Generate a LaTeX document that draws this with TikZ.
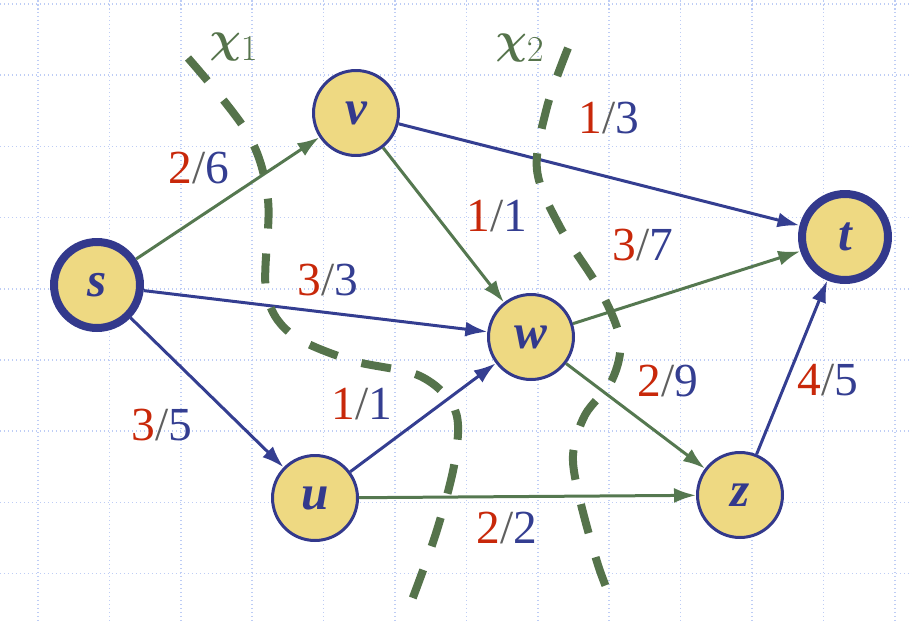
\documentclass[tikz,border=0pt]{standalone}
\usepackage{bm}
\usepackage{fontspec}
\setmainfont{Liberation Serif}
\newfontfamily\graphfont{Liberation Serif}
\usepackage{xcolor}
\usepackage{tikz}
\usetikzlibrary{arrows.meta}

\definecolor{vfill}{RGB}{238,217,130}
\definecolor{navy}{RGB}{51,57,140}
\definecolor{edgegreen}{RGB}{85,120,80}
\definecolor{edgeblue}{RGB}{52,62,145}
\definecolor{cutgreen}{RGB}{85,115,75}
\definecolor{flowred}{RGB}{200,40,10}
\definecolor{slashgray}{RGB}{95,95,95}
\definecolor{gridblue}{RGB}{190,205,245}

\newcommand{\capflow}[2]{\textcolor{flowred}{#1}\textcolor{slashgray}{/}\textcolor{edgeblue}{#2}}

\begin{document}
\begin{tikzpicture}[
  x=0.02cm, y=-0.02cm,
  vtx/.style={circle, draw=navy, fill=vfill, line width=0.06cm, minimum size=1.7cm, inner sep=0pt,
    text=navy, font=\graphfont\fontsize{28}{28}\selectfont\bfseries\itshape},
  term/.style={vtx, line width=0.16cm, minimum size=1.72cm},
  gedge/.style={draw=edgegreen, line width=0.06cm, -{Latex[length=0.44cm,width=0.3cm]}},
  bedge/.style={gedge, draw=edgeblue},
  lbl/.style={inner sep=0pt, font=\graphfont\fontsize{27}{27}\selectfont},
  cutlbl/.style={inner sep=0pt, text=cutgreen, font=\fontsize{32}{32}\selectfont},
  cut/.style={draw=cutgreen, line width=0.16cm, dash pattern=on 0.6cm off 0.5cm},
  gridline/.style={draw=gridblue, line width=0.03cm, dash pattern=on 0.03cm off 0.05cm}
]
\useasboundingbox (0,0) rectangle (912,629);

% background grid
\foreach \k in {0,...,12}
  \draw[gridline] (38+71.4*\k,0) -- (38+71.4*\k,622);
\foreach \k in {0,...,8}
  \draw[gridline] (0,4+71.2*\k) -- (912,4+71.2*\k);

% vertices
\node[term] (s) at (97,285) {s};
\node[vtx] (v) at (356,113) {v};
\node[vtx] (w) at (531,337) {w};
\node[vtx] (u) at (315,498) {u};
\node[vtx] (z) at (740,495) {z};
\node[term] (t) at (845,237) {t};

% edges
\draw[gedge] (s) -- (v);
\draw[bedge] (s) -- (w);
\draw[bedge] (s) -- (u);
\draw[bedge] (v) -- (t);
\draw[gedge] (v) -- (w);
\draw[bedge] (u) -- (w);
\draw[gedge] (u) -- (z);
\draw[gedge] (w) -- (t);
\draw[gedge] (w) -- (z);
\draw[bedge] (z) -- (t);

% flow / capacity
\node[lbl] (fsv) at (199,168) {\capflow{2}{6}};
\node[lbl] (fsw) at (328,280) {\capflow{3}{3}};
\node[lbl] (fsu) at (162,425) {\capflow{3}{5}};
\node[lbl] (fvt) at (609,118) {\capflow{1}{3}};
\node[lbl] (fvw) at (497,216) {\capflow{1}{1}};
\node[lbl] (fuw) at (362,404) {\capflow{1}{1}};
\node[lbl] (fuz) at (507,528) {\capflow{2}{2}};
\node[lbl] (fwt) at (643,245) {\capflow{3}{7}};
\node[lbl] (fwz) at (668,381) {\capflow{2}{9}};
\node[lbl] (fzt) at (828,380) {\capflow{4}{5}};

% cuts
\draw[cut] plot[smooth, tension=0.55] coordinates {(188,58) (248,134) (268,200) (266,290) (290,333)
  (350,360) (420,376) (455,410) (455,460) (437,530) (412,600)};
\draw[cut] plot[smooth, tension=0.55] coordinates {(568,48) (547,107) (537,170) (560,227) (600,290)
  (620,340) (612,380) (585,415) (573,455) (580,500) (598,565) (613,604)};
\node[cutlbl] (x1) at (234,47) {$\bm{\chi}_1$};
\node[cutlbl] (x2) at (520,48) {$\bm{\chi}_2$};
\end{tikzpicture}
\end{document}
